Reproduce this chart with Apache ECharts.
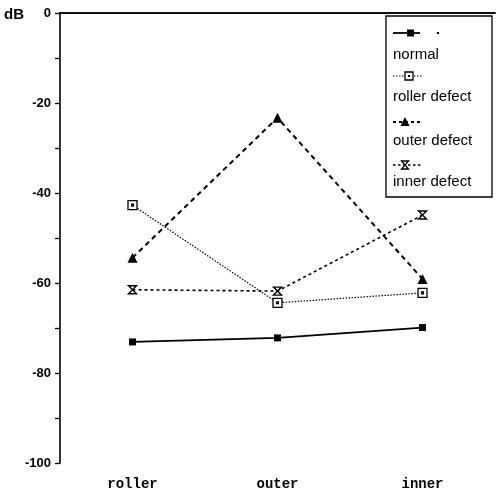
<!DOCTYPE html>
<html>
<head>
<meta charset="utf-8">
<script src="https://cdn.jsdelivr.net/npm/echarts@6/dist/echarts.min.js"></script>
<style>
  html, body { margin: 0; padding: 0; background: #fff; }
  #chart { width: 496px; height: 492px; }
</style>
</head>
<body>
<div id="chart"></div>
<script>
// Fault positions along the x axis
const categories = ['roller', 'outer', 'inner'];

// Spectral level (dB) per bearing condition
const normal       = [-73.1, -72.2, -69.9];
const rollerDefect = [-42.7, -64.4, -62.2];
const outerDefect  = [-54.4, -23.3, -59.1];
const innerDefect  = [-61.5, -61.8, -44.9];

const seriesNames = ['normal', 'roller defect', 'outer defect', 'inner defect'];

// Marker shapes
const squareDot = 'path://M0,0H10V10H0Z M4,4H6V6H4Z';
const hourglass = 'path://M0,0L10,0L0,10L10,10Z';

const chart = echarts.init(document.getElementById('chart'), null, { renderer: 'canvas' });

const ink = '#000';
const legendFont = '15px "Liberation Sans", Arial, sans-serif';

// Legend built by hand: a line sample with its marker, the name underneath
const lx = 393, lw = 30;
const rowsY = [33, 76, 122, 165];
const textY = [56, 98, 142, 183];
const legend = [
  { type: 'rect', shape: { x: 386, y: 16, width: 106, height: 181 },
    style: { fill: '#fff', stroke: ink, lineWidth: 1.3 }, z: 10 },
  // normal
  { type: 'line', shape: { x1: lx, y1: rowsY[0], x2: lx + 27, y2: rowsY[0] },
    style: { stroke: ink, lineWidth: 1.8 }, z: 11 },
  { type: 'rect', shape: { x: 407, y: rowsY[0] - 3.5, width: 7, height: 7 },
    style: { fill: ink }, z: 11 },
  { type: 'rect', shape: { x: 437, y: rowsY[0] - 1, width: 2, height: 2 },
    style: { fill: ink }, z: 11 },
  // roller defect
  { type: 'line', shape: { x1: lx, y1: rowsY[1], x2: lx + lw, y2: rowsY[1] },
    style: { stroke: ink, lineWidth: 1, lineDash: [1.5, 1.5] }, z: 11 },
  { type: 'rect', shape: { x: 405, y: rowsY[1] - 4, width: 8, height: 8 },
    style: { fill: '#fff', stroke: ink, lineWidth: 1.3 }, z: 11 },
  { type: 'rect', shape: { x: 408, y: rowsY[1] - 1, width: 2, height: 2 },
    style: { fill: ink }, z: 12 },
  // outer defect
  { type: 'line', shape: { x1: lx, y1: rowsY[2], x2: lx + lw, y2: rowsY[2] },
    style: { stroke: ink, lineWidth: 1.8, lineDash: [3, 3] }, z: 11 },
  { type: 'polygon', shape: { points: [[405, rowsY[2] - 5], [400.5, rowsY[2] + 4], [409.5, rowsY[2] + 4]] },
    style: { fill: ink }, z: 12 },
  // inner defect
  { type: 'line', shape: { x1: lx, y1: rowsY[3], x2: lx + lw, y2: rowsY[3] },
    style: { stroke: ink, lineWidth: 1.5, lineDash: [2.5, 2.5] }, z: 11 },
  { type: 'polygon', shape: { points: [[401.5, rowsY[3] - 4], [408.5, rowsY[3] - 4], [401.5, rowsY[3] + 4], [408.5, rowsY[3] + 4]] },
    style: { fill: '#fff', stroke: ink, lineWidth: 1.3 }, z: 12 }
];
seriesNames.forEach(function (name, i) {
  legend.push({ type: 'text', left: lx, top: textY[i] - 9,
    style: { text: name, font: legendFont, fill: ink }, z: 12 });
});
legend.push({ type: 'text', left: 4, top: 7,
  style: { text: 'dB', font: 'bold 15px "Liberation Sans", Arial, sans-serif', fill: ink } });

const lineSeries = function (name, data, opts) {
  return Object.assign({
    name: name, type: 'line', data: data,
    symbolKeepAspect: true,
    animation: false,
    z: 3
  }, opts);
};

chart.setOption({
  backgroundColor: '#fff',
  animation: false,
  grid: { left: 60, right: 1, top: 13, bottom: 29, containLabel: false },
  xAxis: [{
    type: 'category',
    data: categories,
    boundaryGap: true,
    axisLine: { lineStyle: { color: ink, width: 1.6 } },
    axisTick: { alignWithLabel: true, length: 6, lineStyle: { color: ink, width: 1.3 } },
    axisLabel: { color: ink, margin: 14, fontSize: 14, fontWeight: 'bold',
      fontFamily: '"Liberation Mono", "DejaVu Sans Mono", monospace' },
    splitLine: { show: false }
  }, {
    type: 'category',
    data: categories,
    position: 'top',
    axisLine: { lineStyle: { color: ink, width: 1.6 } },
    axisTick: { show: false },
    axisLabel: { show: false }
  }],
  yAxis: {
    type: 'value',
    min: -100, max: 0, interval: 20,
    axisLine: { show: true, lineStyle: { color: ink, width: 1.6 } },
    axisTick: { show: true, length: 5, lineStyle: { color: ink, width: 1.3 } },
    minorTick: { show: true, splitNumber: 2, length: 5, lineStyle: { color: ink, width: 1.3 } },
    splitLine: { show: false },
    axisLabel: { color: ink, margin: 9, fontSize: 13, fontWeight: 'bold',
      fontFamily: '"Liberation Sans", Arial, sans-serif' }
  },
  graphic: legend,
  series: [
    lineSeries(seriesNames[0], normal, {
      symbol: 'rect', symbolSize: 7,
      itemStyle: { color: ink },
      lineStyle: { color: ink, width: 1.8, type: 'solid' }
    }),
    lineSeries(seriesNames[1], rollerDefect, {
      symbol: squareDot, symbolSize: 9,
      itemStyle: { color: '#fff', borderColor: ink, borderWidth: 1.3 },
      lineStyle: { color: ink, width: 1.2, type: [1.5, 1.5] }
    }),
    lineSeries(seriesNames[2], outerDefect, {
      symbol: 'triangle', symbolSize: [10, 10],
      itemStyle: { color: ink },
      lineStyle: { color: ink, width: 2, type: [5, 4] }
    }),
    lineSeries(seriesNames[3], innerDefect, {
      symbol: hourglass, symbolSize: 8,
      itemStyle: { color: '#fff', borderColor: ink, borderWidth: 1.4 },
      lineStyle: { color: ink, width: 1.6, type: [3, 3] }
    })
  ]
});
</script>
</body>
</html>
